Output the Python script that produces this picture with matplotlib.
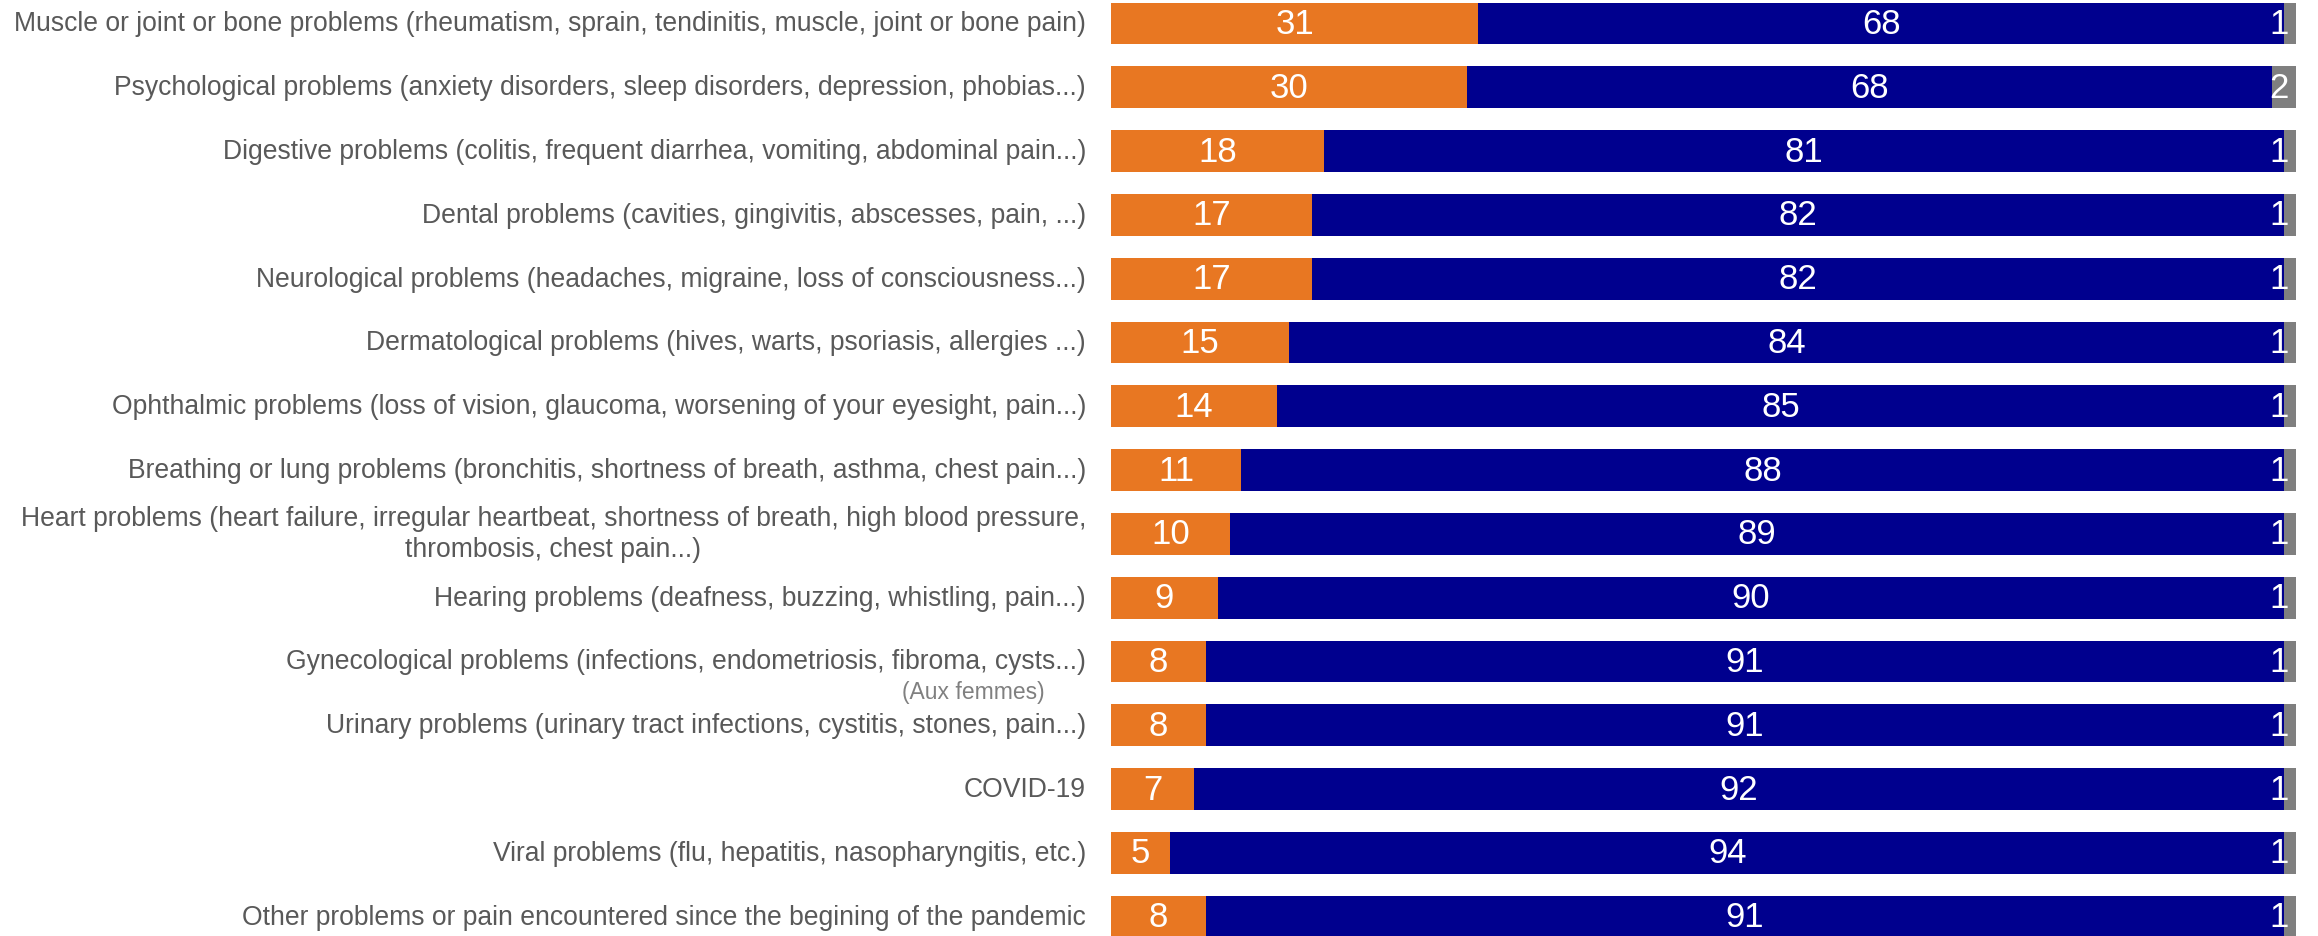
import numpy as np
import matplotlib
matplotlib.use('Agg')
import matplotlib.pyplot as plt

plt.rcParams['font.family'] = ['Liberation Sans', 'DejaVu Sans']

# categories, top to bottom
labels = [
    'Muscle or joint or bone problems (rheumatism, sprain, tendinitis, muscle, joint or bone pain)',
    'Psychological problems (anxiety disorders, sleep disorders, depression, phobias...)',
    'Digestive problems (colitis, frequent diarrhea, vomiting, abdominal pain...)',
    'Dental problems (cavities, gingivitis, abscesses, pain, ...)',
    'Neurological problems (headaches, migraine, loss of consciousness...)',
    'Dermatological problems (hives, warts, psoriasis, allergies ...)',
    'Ophthalmic problems (loss of vision, glaucoma, worsening of your eyesight, pain...)',
    'Breathing or lung problems (bronchitis, shortness of breath, asthma, chest pain...)',
    'Heart problems (heart failure, irregular heartbeat, shortness of breath, high blood pressure,\nthrombosis, chest pain...)',
    'Hearing problems (deafness, buzzing, whistling, pain...)',
    'Gynecological problems (infections, endometriosis, fibroma, cysts...)',
    'Urinary problems (urinary tract infections, cystitis, stones, pain...)',
    'COVID-19',
    'Viral problems (flu, hepatitis, nasopharyngitis, etc.)',
    'Other problems or pain encountered since the begining of the pandemic',
]
yes_vals = [31, 30, 18, 17, 17, 15, 14, 11, 10, 9, 8, 8, 7, 5, 8]
no_vals = [68, 68, 81, 82, 82, 84, 85, 88, 89, 90, 91, 91, 92, 94, 91]
na_vals = [1, 2, 1, 1, 1, 1, 1, 1, 1, 1, 1, 1, 1, 1, 1]

c_yes = '#E87722'
c_no = '#00008E'
c_na = '#7F7F7F'
c_txt = '#595959'

fig = plt.figure(figsize=(23.18, 9.37), dpi=100)
ax = fig.add_axes([1111/2318, 0, 1185/2318, 1])

y = np.arange(len(labels))
yes = np.array(yes_vals)
no = np.array(no_vals)
na = np.array(na_vals)
h = 0.658

ax.barh(y, yes, height=h, color=c_yes)
ax.barh(y, no, left=yes, height=h, color=c_no)
ax.barh(y, na, left=yes + no, height=h, color=c_na)

fs = 25
for i in range(len(labels)):
    ax.text(yes[i]/2, y[i], str(yes[i]), ha='center', va='center', color='white', fontsize=fs)
    ax.text(yes[i] + no[i]/2, y[i], str(no[i]), ha='center', va='center', color='white', fontsize=fs)
    ax.text(99.4, y[i], str(na[i]), ha='right', va='center', color='white', fontsize=fs)

ax.set_xlim(0, 100)
ax.set_ylim(-0.384 + 937/63.8, -0.384)
ax.axis('off')

# category labels to the left of the bars
for i, lab in enumerate(labels):
    ax.annotate(lab, xy=(0, y[i]), xytext=(-25, 0), textcoords='offset pixels',
                ha='right', va='center', multialignment='center',
                color=c_txt, fontsize=19.1, linespacing=1.25)

ax.annotate('(Aux femmes)', xy=(0, 10), xytext=(-66, -30), textcoords='offset pixels',
            ha='right', va='center', color='#808080', fontsize=16.5)

fig.savefig('out.png', dpi=100)
